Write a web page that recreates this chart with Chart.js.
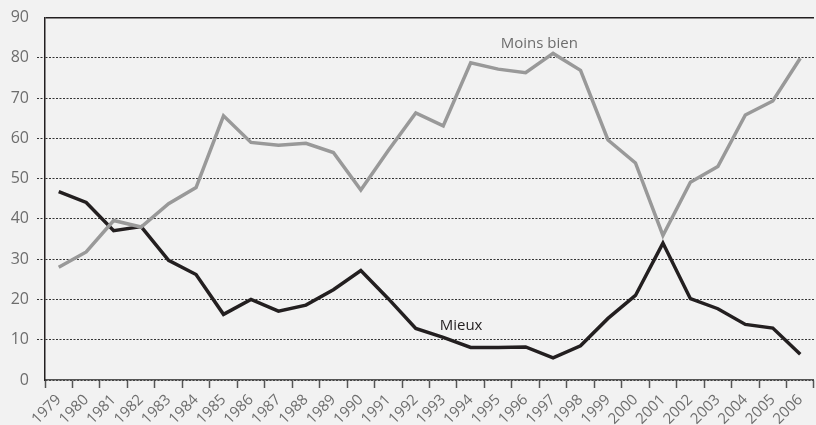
<!DOCTYPE html>
<html>
<head>
<meta charset="utf-8">
<script src="https://cdn.jsdelivr.net/npm/chart.js@4"></script>
<style>
html,body{margin:0;padding:0;background:#f2f2f2;}
#wrap{width:816px;height:425px;position:relative;}
</style>
</head>
<body>
<div id="wrap"><canvas id="c" width="816" height="425"></canvas></div>
<script>
const years = ["1979","1980","1981","1982","1983","1984","1985","1986","1987","1988","1989","1990","1991","1992","1993","1994","1995","1996","1997","1998","1999","2000","2001","2002","2003","2004","2005","2006"];
const mieux = [46.8,44.1,37.1,38.1,29.7,26.2,16.3,20.0,17.1,18.6,22.4,27.2,20.2,12.8,10.6,8.1,8.1,8.2,5.5,8.5,15.3,21.0,34.0,20.2,17.7,13.8,12.9,6.4];
const moinsBien = [28.0,31.8,39.6,38.0,43.8,47.8,65.6,59.0,58.3,58.8,56.5,47.2,57.0,66.3,63.1,78.8,77.2,76.3,81.1,76.9,59.6,53.9,35.9,49.1,53.0,65.8,69.3,79.9];
const yTicks = [0,10,20,30,40,50,60,70,80,90];
const seriesLabels = [
  {text:"Moins bien", xIndex:17.5, value:83.6, color:"#6d6d6d"},
  {text:"Mieux", xIndex:14.65, value:13.4, color:"#231f20"}
];

const labelPlugin = {
  id:'seriesLabels',
  afterDatasetsDraw(chart){
    const {ctx, scales:{x,y}} = chart;
    ctx.save();
    ctx.font = '15px "Open Sans", sans-serif';
    ctx.textAlign = 'center';
    ctx.textBaseline = 'middle';
    seriesLabels.forEach(l=>{
      const i0 = Math.floor(l.xIndex), f = l.xIndex - i0;
      const px = x.getPixelForValue(i0) + f*(x.getPixelForValue(i0+1)-x.getPixelForValue(i0));
      ctx.fillStyle = l.color;
      ctx.fillText(l.text, px, y.getPixelForValue(l.value));
    });
    ctx.restore();
  }
};
const bgPlugin = {
  id:'bg',
  beforeDraw(chart){
    const {ctx,width,height} = chart;
    ctx.save(); ctx.fillStyle='#f2f2f2'; ctx.fillRect(0,0,width,height); ctx.restore();
  }
};

new Chart(document.getElementById('c'), {
  type:'line',
  data:{
    labels: years,
    datasets:[
      {label:'Moins bien', data:moinsBien, borderColor:'#999999', borderWidth:3.5, pointRadius:0, tension:0, fill:false, borderJoinStyle:'miter'},
      {label:'Mieux', data:mieux, borderColor:'#231f20', borderWidth:3.5, pointRadius:0, tension:0, fill:false, borderJoinStyle:'miter'}
    ]
  },
  options:{
    responsive:false,
    animation:false,
    layout:{padding:{top:16,right:1,left:0,bottom:0}},
    plugins:{legend:{display:false}, tooltip:{enabled:false}},
    scales:{
      x:{
        offset:true,
        grid:{offset:true, drawOnChartArea:false, drawTicks:true, tickLength:8, tickColor:'#555', tickWidth:1.5},
        border:{display:true, color:'#555', width:1.5},
        ticks:{color:'#6d6d6d', font:{family:'"Open Sans", sans-serif', size:15}, minRotation:45, maxRotation:45, padding:3, autoSkip:false},
        afterFit(s){ s.height = 45; }
      },
      y:{
        min:0, max:90,
        afterBuildTicks(s){ s.ticks = yTicks.map(v=>({value:v})); },
        grid:{
          color:(c)=> c.tick && c.tick.value===90 ? '#231f20' : '#333333',
          lineWidth:(c)=> c.tick && c.tick.value===90 ? 1.5 : 1,
          tickLength:8,
          tickColor:(c)=> c.tick && (c.tick.value===0 || c.tick.value===90) ? 'rgba(0,0,0,0)' : '#333333',
          tickBorderDash:[2,1.5]
        },
        border:{display:true, color:'#231f20', width:1.5, dash:(c)=> c.tick && c.tick.value===90 ? [] : [2,1.5]},
        ticks:{color:'#6d6d6d', font:{family:'"Open Sans", sans-serif', size:16}, padding:8},
        afterFit(s){ s.width = 45; }
      }
    }
  },
  plugins:[bgPlugin, labelPlugin]
});
</script>
</body>
</html>
